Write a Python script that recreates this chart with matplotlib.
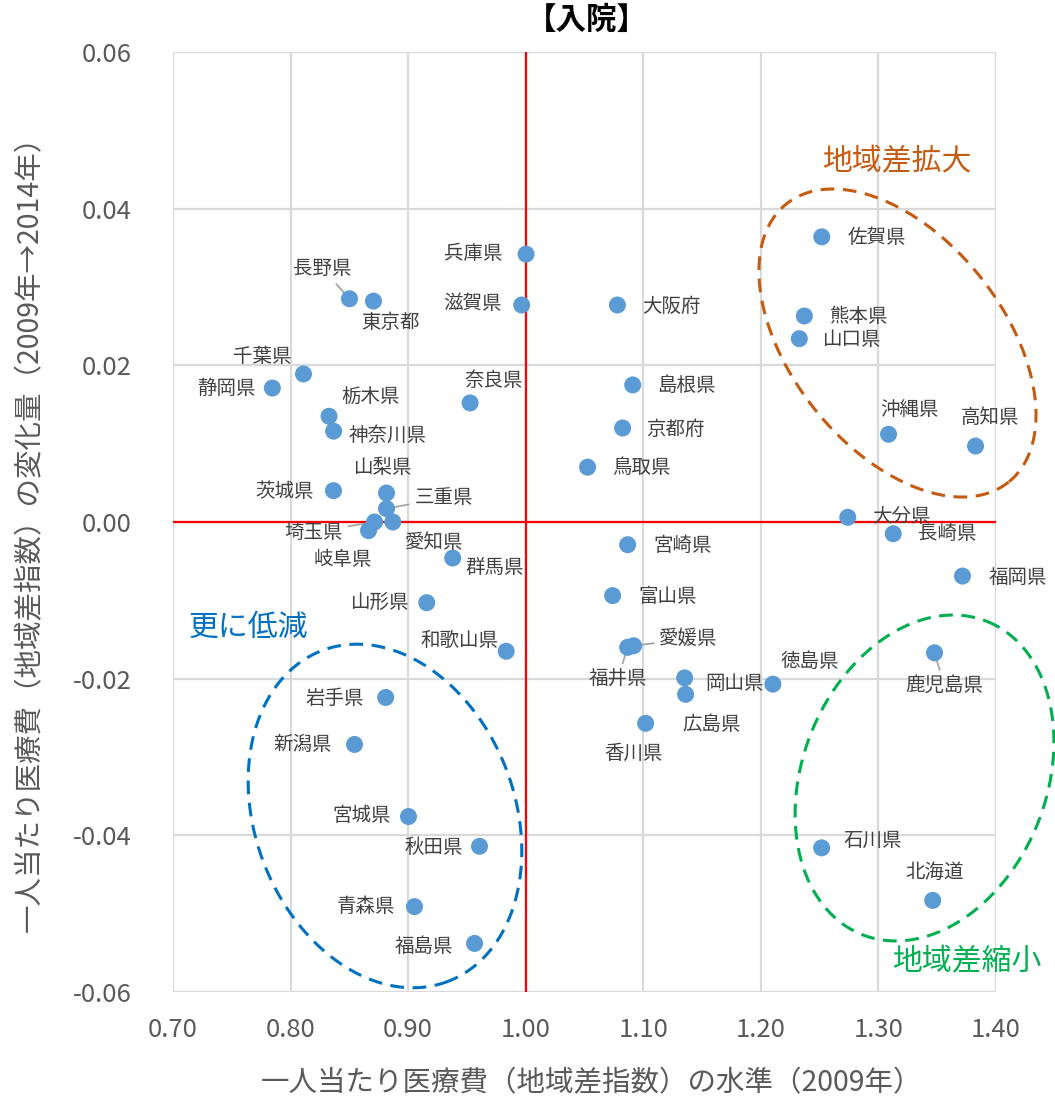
import numpy as np
import matplotlib
matplotlib.use("Agg")
import matplotlib.pyplot as plt

# ---------------- data ----------------
prefectures = ["北海道", "青森県", "岩手県", "宮城県", "秋田県", "山形県", "福島県",
               "茨城県", "栃木県", "群馬県", "埼玉県", "千葉県", "東京都", "神奈川県",
               "新潟県", "富山県", "石川県", "福井県", "山梨県", "長野県", "岐阜県",
               "静岡県", "愛知県", "三重県", "滋賀県", "京都府", "大阪府", "兵庫県",
               "奈良県", "和歌山県", "鳥取県", "島根県", "岡山県", "広島県", "山口県",
               "徳島県", "香川県", "愛媛県", "高知県", "福岡県", "佐賀県", "長崎県",
               "熊本県", "大分県", "宮崎県", "鹿児島県", "沖縄県"]
level_2009 = [1.3462, 0.9054, 0.8809, 0.9003, 0.9607, 0.9158, 0.9565,
              0.8365, 0.8327, 0.9379, 0.8714, 0.8110, 0.8705, 0.8366,
              0.8544, 1.0739, 1.2517, 1.0867, 0.8816, 0.8501, 0.8663,
              0.7845, 0.8870, 0.8816, 0.9966, 1.0824, 1.0780, 1.0003,
              0.9527, 0.9834, 1.0526, 1.0910, 1.1352, 1.1360, 1.2327,
              1.2102, 1.1020, 1.0918, 1.3826, 1.3715, 1.2518, 1.3126,
              1.2370, 1.2739, 1.0867, 1.3477, 1.3086]
change_09_14 = [-0.0483, -0.0491, -0.0224, -0.0376, -0.0414, -0.0103, -0.0538,
                0.0040, 0.0135, -0.0046, 0.0000, 0.0189, 0.0282, 0.0116,
                -0.0284, -0.0094, -0.0416, -0.0160, 0.0037, 0.0285, -0.0011,
                0.0171, 0.0000, 0.0017, 0.0277, 0.0120, 0.0277, 0.0342,
                0.0152, -0.0165, 0.0070, 0.0175, -0.0199, -0.0220, 0.0234,
                -0.0207, -0.0257, -0.0158, 0.0097, -0.0069, 0.0364, -0.0015,
                0.0263, 0.0006, -0.0029, -0.0167, 0.0112]
x_ticks = [0.70, 0.80, 0.90, 1.00, 1.10, 1.20, 1.30, 1.40]
y_ticks = [-0.06, -0.04, -0.02, 0.00, 0.02, 0.04, 0.06]
group_names = ["地域差拡大", "更に低減", "地域差縮小"]

# ---------------- style (label offsets in pixels: dx right, dy up) ----------------
label_offsets = {
    "兵庫県": (-53, 1), "滋賀県": (-49, 2), "長野県": (-27, 30), "東京都": (17, -21),
    "大阪府": (54, -1), "佐賀県": (55, -1), "熊本県": (54, -1), "山口県": (53, -1),
    "千葉県": (-41, 17), "静岡県": (-46, 0), "栃木県": (42, 19), "神奈川県": (54, -4),
    "奈良県": (24, 22), "島根県": (54, -1), "京都府": (53, -1), "鳥取県": (54, 0),
    "沖縄県": (21, 25), "高知県": (14, 29), "茨城県": (-49, -1), "山梨県": (-3, 26),
    "三重県": (57, 11), "埼玉県": (-61, -10), "岐阜県": (-26, -29), "愛知県": (41, -20),
    "群馬県": (42, -9), "山形県": (-46, 0), "和歌山県": (-47, 11), "大分県": (54, 1),
    "長崎県": (54, 0), "福岡県": (55, -1), "宮崎県": (55, -1), "富山県": (55, -1),
    "愛媛県": (55, 7), "福井県": (-10, -32), "岡山県": (50, -6), "広島県": (26, -30),
    "香川県": (-12, -30), "徳島県": (37, 23), "鹿児島県": (10, -33), "石川県": (51, 8),
    "北海道": (2, 28), "岩手県": (-51, -1), "新潟県": (-52, 0), "宮城県": (-47, 1),
    "秋田県": (-46, -1), "青森県": (-48, 0), "福島県": (-51, -3),
}
leaders = {"長野県", "三重県", "埼玉県", "愛媛県", "福井県", "鹿児島県"}

CJK = "Noto Sans CJK JP"
plt.rcParams['font.family'] = [CJK, 'DejaVu Sans']

W, H = 1055, 1104
fig = plt.figure(figsize=(W / 100, H / 100), dpi=100)
ax = fig.add_axes([173 / W, 1 - 992 / H, (996 - 173) / W, (992 - 52) / H])
ax.set_xlim(0.70, 1.40)
ax.set_ylim(-0.06, 0.06)

for s in ax.spines.values():
    s.set_visible(False)
ax.set_xticks(x_ticks)
ax.set_yticks(y_ticks)
ax.set_xticklabels([f"{v:.2f}" for v in x_ticks])
ax.set_yticklabels([f"{v:.2f}" for v in y_ticks])
ax.tick_params(length=0, labelcolor="#595959", labelsize=18.5)
ax.tick_params(axis='y', pad=30)
ax.tick_params(axis='x', pad=18)
ax.grid(True, color="#D9D9D9", lw=1.6, zorder=0)
ax.set_axisbelow(True)

ax.axvline(1.0, color="#FF0000", lw=1.6, zorder=3)
ax.axhline(0.0, color="#FF0000", lw=1.6, zorder=3)

ax.scatter(level_2009, change_09_14, s=150, color="#5B9BD5", edgecolors="none", zorder=5)

for name, x, y in zip(prefectures, level_2009, change_09_14):
    dx, dy = label_offsets[name]
    kw = {}
    if name in leaders:
        kw["arrowprops"] = dict(arrowstyle="-", color="#A6A6A6", lw=1.3, shrinkA=2, shrinkB=4)
    ax.annotate(name, (x, y), xytext=(dx, dy), textcoords="offset pixels",
                ha="center", va="center", fontsize=14, color="#404040", zorder=4, **kw)

# dashed ellipses, defined in pixel space around a data-space centre
bb = ax.get_window_extent()
pxx = bb.width / 0.70
pxy = bb.height / 0.12

def ellipse(cx, cy, a, b, theta_deg, color):
    t = np.linspace(0, 2 * np.pi, 400)
    th = np.deg2rad(theta_deg)
    dx = a * np.cos(t) * np.cos(th) - b * np.sin(t) * np.sin(th)
    dy = a * np.cos(t) * np.sin(th) + b * np.sin(t) * np.cos(th)
    ax.plot(cx + dx / pxx, cy - dy / pxy, color=color, lw=2.2,
            linestyle=(0, (4.5, 2.8)), zorder=6, clip_on=False)

ellipse(1.3162, 0.02285, 178, 106, 51.4, "#C55A11")
ellipse(0.8803, -0.03753, 177, 130, 69.2, "#0070C0")
ellipse(1.3392, -0.03268, 168.6, 122, -68.2, "#00B050")

fig.text(897 / W, 1 - 162 / H, group_names[0], color="#C55A11", fontsize=21.5,
         ha="center", va="center")
fig.text(248 / W, 1 - 627 / H, group_names[1], color="#0070C0", fontsize=21.5,
         ha="center", va="center")
fig.text(967 / W, 1 - 962 / H, group_names[2], color="#00B050", fontsize=21.5,
         ha="center", va="center")

fig.text(587 / W, 1 - 20 / H, "【入院】", color="black", fontsize=22, fontweight="bold",
         ha="center", va="center")
fig.text(591 / W, 1 - 1083 / H, "一人当たり医療費（地域差指数）の水準（2009年）",
         color="#595959", fontsize=20.5, ha="center", va="center")
fig.text(30 / W, 1 - 527 / H, "一人当たり医療費（地域差指数）の変化量（2009年→2014年）",
         color="#595959", fontsize=20.5, ha="center", va="center", rotation=90)

fig.savefig("out.png", dpi=100)
